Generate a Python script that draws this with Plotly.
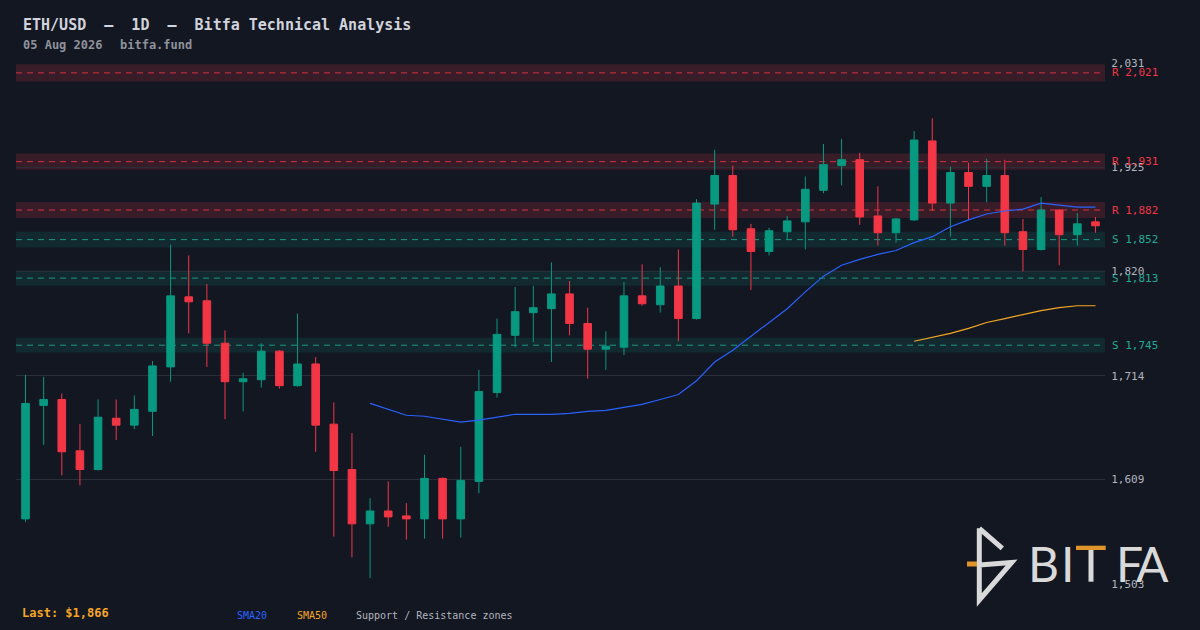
import pandas as pd
import plotly.graph_objects as go

# -----------------------------
# Data
# -----------------------------
dates = pd.date_range(end="2026-08-05", periods=60, freq="D")

opens = [1569, 1684, 1690, 1638, 1619, 1671, 1664, 1678, 1723, 1794,
         1790, 1747, 1708, 1710, 1739, 1704, 1726, 1665, 1619, 1564,
         1577, 1572, 1569, 1610, 1569, 1607, 1697, 1755, 1778, 1782,
         1797, 1767, 1741, 1743, 1795, 1786, 1805, 1772, 1888, 1917,
         1863, 1840, 1860, 1870, 1902, 1927, 1933, 1876, 1859, 1872,
         1952, 1889, 1920, 1906, 1917, 1860, 1842, 1882, 1857, 1870]
highs = [1715, 1713, 1696, 1665, 1690, 1690, 1694, 1729, 1847, 1836,
         1807, 1760, 1717, 1747, 1740, 1777, 1733, 1687, 1656, 1590,
         1607, 1585, 1634, 1611, 1642, 1720, 1772, 1804, 1805, 1829,
         1810, 1783, 1759, 1809, 1827, 1824, 1842, 1893, 1943, 1927,
         1868, 1864, 1876, 1916, 1949, 1954, 1940, 1906, 1874, 1962,
         1975, 1926, 1930, 1934, 1933, 1873, 1895, 1883, 1879, 1875]
lows = [1566, 1644, 1613, 1603, 1618, 1649, 1660, 1653, 1708, 1757,
        1723, 1670, 1678, 1702, 1701, 1703, 1637, 1551, 1530, 1509,
        1561, 1548, 1549, 1549, 1550, 1595, 1692, 1743, 1748, 1728,
        1755, 1711, 1720, 1735, 1785, 1778, 1749, 1771, 1862, 1855,
        1801, 1836, 1852, 1842, 1899, 1907, 1867, 1846, 1849, 1871,
        1881, 1855, 1872, 1890, 1846, 1820, 1841, 1826, 1846, 1859]
closes = [1686, 1690, 1637, 1619, 1672, 1664, 1680, 1724, 1795, 1789,
          1747, 1708, 1711, 1739, 1704, 1726, 1664, 1618, 1564, 1577,
          1571, 1569, 1610, 1569, 1608, 1698, 1756, 1779, 1783, 1797,
          1767, 1741, 1744, 1795, 1787, 1805, 1772, 1889, 1917, 1862,
          1840, 1861, 1871, 1903, 1928, 1933, 1875, 1859, 1873, 1953,
          1889, 1920, 1906, 1917, 1859, 1842, 1882, 1857, 1868, 1866]

sma20 = [None] * 19 + [
    1686, 1680, 1674, 1673, 1670, 1667, 1669, 1672, 1675, 1675,
    1675, 1676, 1678, 1679, 1682, 1685, 1690, 1695, 1709, 1728,
    1740, 1754, 1768, 1782, 1799, 1815, 1826, 1832, 1837, 1841,
    1849, 1855, 1865, 1872, 1878, 1881, 1883, 1889, 1887, 1885,
    1885]
sma50 = [None] * 49 + [
    1749, 1753, 1757, 1762, 1768, 1772, 1776, 1780, 1783, 1785, 1785]

resistance_levels = [2021, 1931, 1882]
support_levels = [1852, 1813, 1745]

y_ticks = [1503, 1609, 1714, 1820, 1925, 2031]
y_ticktext = ["1,503", "1,609", "1,714", "1,820", "1,925", "2,031"]

last_price = 1866

# -----------------------------
# Style
# -----------------------------
BG = "#131722"
GREEN = "#089981"
RED = "#f23645"
TEAL = "#22ab94"
BLUE = "#2962ff"
ORANGE = "#f5a623"
MONO = "DejaVu Sans Mono"

# plot area in pixels: x 16..1105, y 63..584
L, R, T, B = 16, 1105, 63, 584


def X(px):
    return (px - L) / (R - L)


def Y(py):
    return (B - py) / (B - T)


fig = go.Figure()

fig.add_trace(go.Candlestick(
    x=dates, open=opens, high=highs, low=lows, close=closes,
    increasing=dict(line=dict(color=GREEN, width=1), fillcolor=GREEN),
    decreasing=dict(line=dict(color=RED, width=1), fillcolor=RED),
    whiskerwidth=0, showlegend=False, hoverinfo="skip",
))

fig.add_trace(go.Scatter(x=dates, y=sma20, mode="lines",
                         line=dict(color=BLUE, width=1.2),
                         showlegend=False, hoverinfo="skip"))
fig.add_trace(go.Scatter(x=dates, y=sma50, mode="lines",
                         line=dict(color=ORANGE, width=1.2),
                         showlegend=False, hoverinfo="skip"))

# -----------------------------
# Support / resistance zones
# -----------------------------
annotations = []
for kind, levels, line_col, fill in [
    ("R", resistance_levels, RED, "rgba(242,54,69,0.17)"),
    ("S", support_levels, TEAL, "rgba(8,153,129,0.14)"),
]:
    for lv in levels:
        half = lv * 0.0043
        fig.add_shape(type="rect", xref="paper", yref="y", x0=0, x1=1,
                      y0=lv - half, y1=lv + half, fillcolor=fill,
                      line=dict(width=0), layer="below")
        fig.add_shape(type="line", xref="paper", yref="y", x0=0, x1=1,
                      y0=lv, y1=lv, layer="below", opacity=0.85,
                      line=dict(color=line_col, width=1, dash="6px,5px"))
        annotations.append(dict(
            xref="paper", yref="y", x=X(1110), y=lv, xanchor="left",
            yanchor="middle", showarrow=False, text=f"{kind} {lv:,}",
            font=dict(family=MONO, size=11, color=line_col)))

# -----------------------------
# Header / footer texts
# -----------------------------
annotations += [
    dict(xref="paper", yref="paper", x=X(21), y=Y(24.5), xanchor="left",
         yanchor="middle", showarrow=False,
         text="<b>ETH/USD  —  1D  —  Bitfa Technical Analysis</b>",
         font=dict(family=MONO, size=15, color="#d1d4dc")),
    dict(xref="paper", yref="paper", x=X(21), y=Y(45), xanchor="left",
         yanchor="middle", showarrow=False, text="<b>05 Aug 2026</b>",
         font=dict(family=MONO, size=12, color="#8f929b")),
    dict(xref="paper", yref="paper", x=X(118), y=Y(45), xanchor="left",
         yanchor="middle", showarrow=False, text="<b>bitfa.fund</b>",
         font=dict(family=MONO, size=12, color="#8f929b")),
    dict(xref="paper", yref="paper", x=X(20), y=Y(613), xanchor="left",
         yanchor="middle", showarrow=False, text=f"<b>Last: ${last_price:,}</b>",
         font=dict(family=MONO, size=12, color=ORANGE)),
    dict(xref="paper", yref="paper", x=X(235), y=Y(615), xanchor="left",
         yanchor="middle", showarrow=False, text="SMA20",
         font=dict(family=MONO, size=10, color=BLUE)),
    dict(xref="paper", yref="paper", x=X(295), y=Y(615), xanchor="left",
         yanchor="middle", showarrow=False, text="SMA50",
         font=dict(family=MONO, size=10, color=ORANGE)),
    dict(xref="paper", yref="paper", x=X(354), y=Y(615), xanchor="left",
         yanchor="middle", showarrow=False, text="Support / Resistance zones",
         font=dict(family=MONO, size=10, color="#b2b5be")),
]

# -----------------------------
# Bitfa logo (icon + letters)
# -----------------------------
LOGO = "#d9d9d9"
LOGO_ORANGE = "#e0952a"
icon = (f"M {X(979.3)} {Y(528.3)} L {X(1002.3)} {Y(548.3)} "
        f"M {X(979.3)} {Y(528.3)} L {X(979.3)} {Y(600)} "
        f"L {X(1011.7)} {Y(562.5)} L {X(979.3)} {Y(565)}")
fig.add_shape(type="path", xref="paper", yref="paper", path=icon,
              line=dict(color=LOGO, width=5))
fig.add_shape(type="line", xref="paper", yref="paper",
              x0=X(967), x1=X(977), y0=Y(564), y1=Y(564),
              line=dict(color=LOGO_ORANGE, width=5))
# the T of BITFA: grey stem, orange bar
fig.add_shape(type="rect", xref="paper", yref="paper",
              x0=X(1088.5), x1=X(1093.5), y0=Y(581.7), y1=Y(550),
              fillcolor=LOGO, line=dict(width=0))
fig.add_shape(type="rect", xref="paper", yref="paper",
              x0=X(1076), x1=X(1105.7), y0=Y(550), y1=Y(545.7),
              fillcolor=LOGO_ORANGE, line=dict(width=0))
for letter, cx in [("B", 1043), ("I", 1067.5), ("F", 1129), ("A", 1152)]:
    annotations.append(dict(
        xref="paper", yref="paper", x=X(cx), y=Y(563), xanchor="center",
        yanchor="middle", showarrow=False, text=letter,
        font=dict(family="Lato", size=48, color=LOGO)))

fig.update_layout(
    width=1200, height=630,
    margin=dict(l=L, r=1200 - R, t=T, b=630 - B),
    paper_bgcolor=BG, plot_bgcolor=BG,
    boxgap=0.4,
    showlegend=False,
    annotations=annotations,
    xaxis=dict(
        range=[dates[0] - pd.Timedelta(hours=12.6),
               dates[-1] + pd.Timedelta(hours=12.6)],
        showgrid=False, zeroline=False, showticklabels=False,
        showline=False, rangeslider=dict(visible=False), fixedrange=True,
    ),
    yaxis=dict(
        range=[1503, 2031], side="right", tickvals=y_ticks,
        ticktext=y_ticktext, showgrid=True, gridcolor="#2a2e39",
        gridwidth=1, zeroline=False, showline=False,
        ticks="outside", ticklen=3, tickcolor=BG,
        tickfont=dict(family=MONO, size=11, color="#b2b5be"),
        fixedrange=True,
    ),
)

# page without the default body margin, so the figure fills the window
page_fix = ("document.body.style.margin='0';"
            "document.body.style.background='%s';"
            "document.body.style.overflow='hidden';" % BG)

fig.write_html("out.html", config={"displayModeBar": False},
               post_script=page_fix)
